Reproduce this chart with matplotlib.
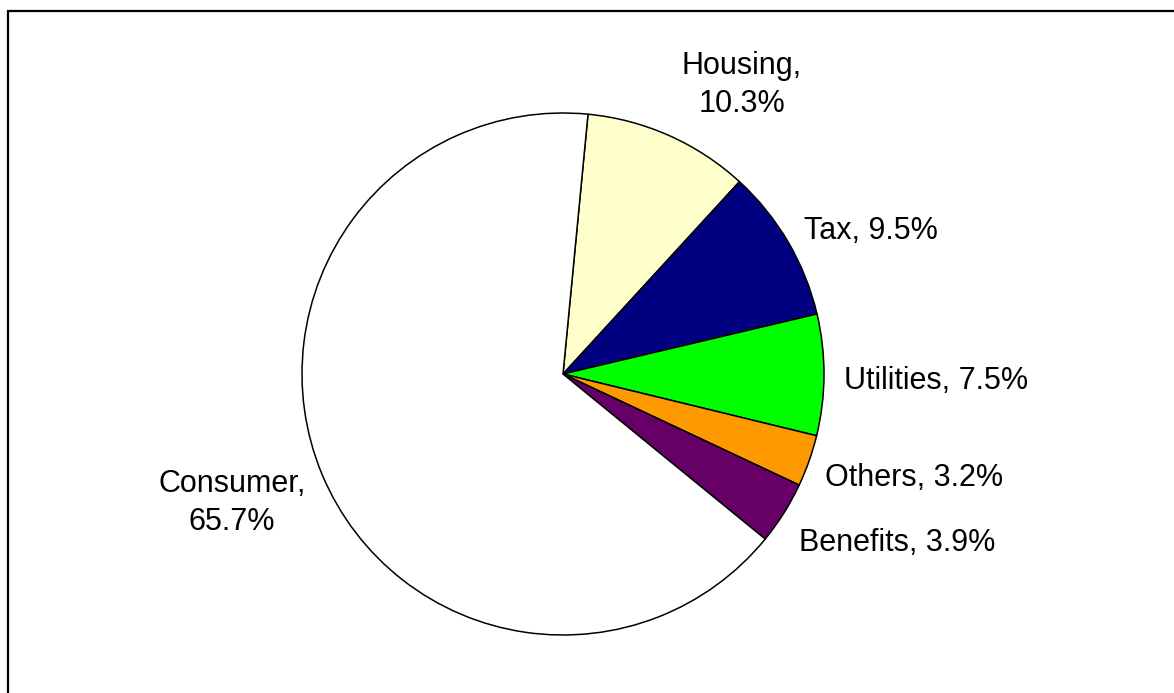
import matplotlib
matplotlib.use("Agg")
import matplotlib.pyplot as plt
from matplotlib.lines import Line2D

# Spending breakdown (percent of total)
categories = ["Housing", "Tax", "Utilities", "Others", "Benefits", "Consumer"]
shares = [10.3, 9.5, 7.5, 3.2, 3.9, 65.7]
colors = ["#FFFFCC", "#000080", "#00FF00", "#FF9900", "#660066", "#FFFFFF"]
label_texts = ["Housing,\n10.3%", "Tax, 9.5%", "Utilities, 7.5%",
               "Others, 3.2%", "Benefits, 3.9%", "Consumer,\n65.7%"]

# Label anchor points in canvas pixels (x from left, y from top)
label_pos = [(742, 85), (871, 231), (936, 381), (914, 478), (897, 543), (232, 503)]

W, H = 1174, 693
plt.rcParams["font.family"] = ["Liberation Sans", "DejaVu Sans"]

fig = plt.figure(figsize=(W / 100, H / 100), dpi=100)
ax = fig.add_axes([0, 0, 1, 1])

cx, cy, r = 563, H - 374, 261
ax.pie(shares, colors=colors, startangle=84.5, counterclock=False,
       center=(cx, cy), radius=r, frame=True,
       wedgeprops=dict(edgecolor="black", linewidth=1.1))
ax.set_xlim(0, W)
ax.set_ylim(0, H)
ax.set_aspect("auto")
ax.set_axis_off()

for txt, (x, y) in zip(label_texts, label_pos):
    ax.text(x, H - y, txt, ha="center", va="center", fontsize=22,
            linespacing=1.35, color="black")

# Chart area border (top and left edges visible)
ax.add_line(Line2D([8, 8, W + 5], [-5, H - 11, H - 11], color="black",
                   linewidth=1.6, solid_joinstyle="miter"))

fig.savefig("out.png", dpi=100)
